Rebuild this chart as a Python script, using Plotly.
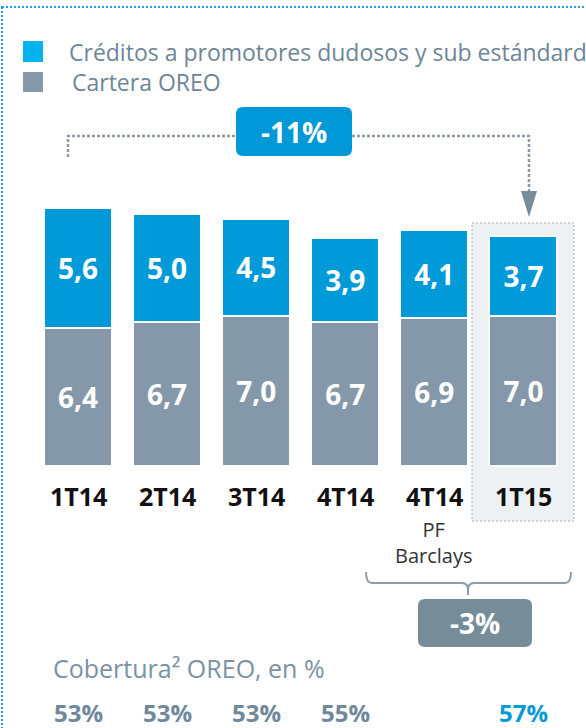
import plotly.graph_objects as go

# ---------------- data ----------------
categories = ["1T14", "2T14", "3T14", "4T14", "4T14", "1T15"]
sub_labels = ["", "", "", "", "PF<br>Barclays", ""]
promotores = [5.6, 5.0, 4.5, 3.9, 4.1, 3.7]   # Créditos a promotores dudosos y sub estándard
oreo = [6.4, 6.7, 7.0, 6.7, 6.9, 7.0]          # Cartera OREO
cobertura = [53, 53, 53, 55, None, 57]         # Cobertura OREO, en %
legend_names = ["Créditos a promotores dudosos y sub estándard", "Cartera OREO"]
change_total = "-11%"
change_pf = "-3%"
cobertura_title = "Cobertura² OREO, en %"

# ---------------- styling ----------------
W, H = 586, 728
FONT = "Open Sans"
BLUE = "#009AD8"
GRAY = "#8498AA"
LEG_BLUE = "#00B2F0"
LEG_GRAY = "#8699AB"
TXT_GRAY = "#6D8599"
HILITE = "#EEF1F3"


def X(px):
    return px / W


def Y(py):
    return 1 - py / H


def rrect(x0, y0, x1, y1, r):
    pts = [
        ("M", [(x0 + r, y0)]), ("L", [(x1 - r, y0)]), ("Q", [(x1, y0), (x1, y0 + r)]),
        ("L", [(x1, y1 - r)]), ("Q", [(x1, y1), (x1 - r, y1)]), ("L", [(x0 + r, y1)]),
        ("Q", [(x0, y1), (x0, y1 - r)]), ("L", [(x0, y0 + r)]), ("Q", [(x0, y0), (x0 + r, y0)]),
    ]
    s = ""
    for cmd, ps in pts:
        s += cmd + " " + " ".join(f"{X(a):.5f},{Y(b):.5f}" for a, b in ps) + " "
    return s + "Z"


def poly(points, close=False):
    s = "M " + " L ".join(f"{X(a):.5f},{Y(b):.5f}" for a, b in points)
    return s + (" Z" if close else "")


def fmt(v):
    return f"{v:.1f}".replace(".", ",")


xs = list(range(len(categories)))
edge_colors = ["white"] * (len(categories) - 1) + ["#F7F9FA"]

fig = go.Figure()
fig.add_trace(go.Bar(
    x=xs, y=oreo, name=legend_names[1],
    marker=dict(color=GRAY, line=dict(color=edge_colors, width=2)),
    text=[fmt(v) for v in oreo], textposition="inside", insidetextanchor="middle", textangle=0,
    textfont=dict(family=FONT, size=28, color="white", weight="bold"), cliponaxis=False,
))
fig.add_trace(go.Bar(
    x=xs, y=promotores, name=legend_names[0],
    marker=dict(color=BLUE, line=dict(color=edge_colors, width=2)),
    text=[fmt(v) for v in promotores], textposition="inside", insidetextanchor="middle", textangle=0,
    textfont=dict(family=FONT, size=28, color="white", weight="bold"), cliponaxis=False,
))

# pixel mapping: category i center at 78 + 89.08*i px ; value 0 at y=466 px, 21.5 px per unit
step = 89.08
x_range = [-78 / step, (W - 78) / step]
y_range = [(466 - H) / 21.5, 466 / 21.5]

shapes = []
# outer dotted frame
shapes.append(dict(type="rect", xref="paper", yref="paper", x0=X(2), y0=Y(7), x1=X(W + 5), y1=Y(H + 5),
                   line=dict(color="#1BA1DC", width=2, dash="2px,2px"), layer="below"))
# highlight box for last quarter
shapes.append(dict(type="rect", xref="paper", yref="paper", x0=X(472), y0=Y(223), x1=X(574), y1=Y(521),
                   fillcolor=HILITE, line=dict(color="#BFC7CD", width=1.5, dash="2px,2px"), layer="below"))
# connector dotted line
shapes.append(dict(type="path", xref="paper", yref="paper",
                   path=poly([(68, 157), (68, 136), (236, 136)]),
                   line=dict(color="#8C9AA5", width=2.5, dash="3px,2px")))
shapes.append(dict(type="path", xref="paper", yref="paper",
                   path=poly([(352, 136), (529, 136), (529, 191)]),
                   line=dict(color="#8C9AA5", width=2.5, dash="3px,2px")))
# arrow head
shapes.append(dict(type="path", xref="paper", yref="paper",
                   path=poly([(521, 191), (537, 191), (529, 217)], close=True),
                   fillcolor="#788C98", line=dict(width=0)))
# -11% box
shapes.append(dict(type="path", xref="paper", yref="paper", path=rrect(236, 107, 352, 156, 7),
                   fillcolor="#0098D6", line=dict(width=0)))
# brace
brace = (f"M {X(366)},{Y(572)} Q {X(366)},{Y(583)} {X(372)},{Y(583)} L {X(462)},{Y(583)} "
         f"Q {X(468)},{Y(583)} {X(468)},{Y(590)} L {X(468)},{Y(595)} M {X(468)},{Y(590)} "
         f"Q {X(468)},{Y(583)} {X(474)},{Y(583)} L {X(565)},{Y(583)} Q {X(571)},{Y(583)} {X(571)},{Y(572)}")
shapes.append(dict(type="path", xref="paper", yref="paper", path=brace,
                   line=dict(color="#8E9DA8", width=2)))
# -3% box
shapes.append(dict(type="path", xref="paper", yref="paper", path=rrect(418, 599, 532, 647, 7),
                   fillcolor="#768C98", line=dict(width=0)))
# legend squares
shapes.append(dict(type="rect", xref="paper", yref="paper", x0=X(23), y0=Y(41), x1=X(43), y1=Y(62),
                   fillcolor=LEG_BLUE, line=dict(width=0)))
shapes.append(dict(type="rect", xref="paper", yref="paper", x0=X(23), y0=Y(72), x1=X(43), y1=Y(92),
                   fillcolor=LEG_GRAY, line=dict(width=0)))

ann = []
ann.append(dict(x=X(67), y=Y(52), xref="paper", yref="paper", text=legend_names[0], showarrow=False,
                xanchor="left", yanchor="middle", font=dict(family=FONT, size=23, color=TXT_GRAY)))
ann.append(dict(x=X(70), y=Y(82), xref="paper", yref="paper", text=legend_names[1], showarrow=False,
                xanchor="left", yanchor="middle", font=dict(family=FONT, size=23, color=TXT_GRAY)))
ann.append(dict(x=X(294), y=Y(132), xref="paper", yref="paper", text=change_total, showarrow=False,
                xanchor="center", yanchor="middle",
                font=dict(family=FONT, size=28, color="white", weight="bold")))
ann.append(dict(x=X(475), y=Y(623), xref="paper", yref="paper", text=change_pf, showarrow=False,
                xanchor="center", yanchor="middle",
                font=dict(family=FONT, size=28, color="white", weight="bold")))
for i, c in enumerate(categories):
    ann.append(dict(x=i, y=Y(496), xref="x", yref="paper", text=c, showarrow=False,
                    xanchor="center", yanchor="middle",
                    font=dict(family=FONT, size=25, color="#111111", weight="bold")))
    if sub_labels[i]:
        ann.append(dict(x=i, y=Y(542), xref="x", yref="paper", text=sub_labels[i], showarrow=False,
                        xanchor="center", yanchor="middle",
                        font=dict(family=FONT, size=20, color="#333333")))
    if cobertura[i] is not None:
        col = "#0A9ADA" if i == len(categories) - 1 else "#6F889B"
        ann.append(dict(x=i, y=Y(712), xref="x", yref="paper", text=f"{cobertura[i]}%", showarrow=False,
                        xanchor="center", yanchor="middle",
                        font=dict(family=FONT, size=24, color=col, weight="bold")))
ann.append(dict(x=X(51), y=Y(668), xref="paper", yref="paper", text=cobertura_title, showarrow=False,
                xanchor="left", yanchor="middle", font=dict(family=FONT, size=25, color="#7A92A4")))

fig.update_layout(
    width=W, height=H, margin=dict(l=0, r=0, t=0, b=0, pad=0),
    barmode="stack", bargap=1 - 68 / step, showlegend=False,
    paper_bgcolor="white", plot_bgcolor="white",
    xaxis=dict(range=x_range, visible=False, fixedrange=True),
    yaxis=dict(range=y_range, visible=False, fixedrange=True),
    shapes=shapes, annotations=ann,
)

fig.write_html("out.html", config={"displayModeBar": False},
               post_script="document.body.style.margin='0';")
